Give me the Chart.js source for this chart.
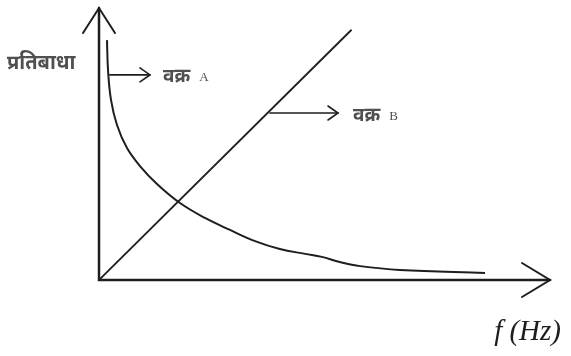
<!DOCTYPE html>
<html>
<head>
<meta charset="utf-8">
<script src="https://cdn.jsdelivr.net/npm/chart.js@4"></script>
<style>
  html, body { margin: 0; padding: 0; background: #fff; }
  #wrap { width: 571px; height: 356px; }
</style>
</head>
<body>
<div id="wrap"><canvas id="chart"></canvas></div>
<script>
// frequency (arbitrary units) and impedance
const curveAFreq = [1.77, 2.0, 2.66, 3.99, 6.21, 9.09, 12.86, 17.96, 23.5, 29.05, 34.6, 40.1, 45.7, 49.4, 53.4, 57.9, 66.7, 85.6];
const curveAImp = [88.2, 77.2, 66.2, 57.0, 48.5, 41.9, 35.3, 28.3, 22.8, 18.4, 14.3, 11.4, 9.6, 8.5, 6.6, 5.1, 3.7, 2.6];
const curveBFreq = [0, 56];
const curveBImp = [0, 92];

const yLabel = "प्रतिबाधा";
const xLabel = "f (Hz)";
const nameA = ["वक्र", "A"];
const nameB = ["वक्र", "B"];

const ink = "#1e1e1e";
const grayText = "#505050";

const toPoints = (xs, ys) => xs.map((x, i) => ({ x: x, y: ys[i] }));

function arrowHead(ctx, x, y, dir, len, half) {
  ctx.beginPath();
  if (dir === "right") {
    ctx.moveTo(x - len, y - half);
    ctx.lineTo(x, y);
    ctx.lineTo(x - len, y + half);
  } else {
    ctx.moveTo(x - half, y + len);
    ctx.lineTo(x, y);
    ctx.lineTo(x + half, y + len);
  }
  ctx.stroke();
}

const sketchPlugin = {
  id: "sketch",
  afterDatasetsDraw(chart) {
    const { ctx, chartArea: a, scales } = chart;
    const sx = scales.x, sy = scales.y;
    ctx.save();
    ctx.strokeStyle = ink;
    ctx.lineCap = "round";

    // axes
    ctx.lineWidth = 2.5;
    ctx.beginPath();
    ctx.moveTo(a.left, a.top);
    ctx.lineTo(a.left, a.bottom);
    ctx.lineTo(a.right, a.bottom);
    ctx.stroke();
    ctx.lineWidth = 2;
    arrowHead(ctx, a.left, a.top, "up", 25, 16);
    arrowHead(ctx, a.right, a.bottom, "right", 28, 17);

    // pointer arrows to the curves
    ctx.lineWidth = 1.6;
    const pointers = [
      { from: [2.4, 75.4], to: [11.3, 75.4], text: nameA, tx: 14.2, dy: 2 },
      { from: [37.9, 61.4], to: [53.0, 61.4], text: nameB, tx: 56.3, dy: 3 }
    ];
    pointers.forEach(p => {
      const x1 = sx.getPixelForValue(p.from[0]);
      const x2 = sx.getPixelForValue(p.to[0]);
      const y = sy.getPixelForValue(p.from[1]);
      ctx.beginPath();
      ctx.moveTo(x1, y);
      ctx.lineTo(x2, y);
      ctx.stroke();
      arrowHead(ctx, x2, y, "right", 10, 7);
      const tx = sx.getPixelForValue(p.tx);
      ctx.fillStyle = grayText;
      ctx.textBaseline = "middle";
      ctx.font = "bold 19px 'Noto Sans', 'DejaVu Sans', sans-serif";
      ctx.fillText(p.text[0], tx, y + p.dy);
      const w = ctx.measureText(p.text[0]).width;
      ctx.font = "13px 'Liberation Serif', serif";
      ctx.fillText(p.text[1], tx + w + 9, y + p.dy + 1);
    });

    // axis titles
    ctx.fillStyle = grayText;
    ctx.textBaseline = "middle";
    ctx.font = "bold 20px 'Noto Sans', 'DejaVu Sans', sans-serif";
    ctx.fillText(yLabel, 7, 63);
    ctx.fillStyle = ink;
    ctx.font = "italic 29px 'Liberation Serif', 'DejaVu Serif', serif";
    ctx.textAlign = "right";
    ctx.textBaseline = "alphabetic";
    ctx.fillText(xLabel, 561, 340);
    ctx.restore();
  }
};

new Chart(document.getElementById("chart"), {
  type: "scatter",
  plugins: [sketchPlugin],
  data: {
    datasets: [
      {
        label: "A",
        data: toPoints(curveAFreq, curveAImp),
        showLine: true,
        borderColor: ink,
        borderWidth: 2,
        pointRadius: 0,
        tension: 0.4
      },
      {
        label: "B",
        data: toPoints(curveBFreq, curveBImp),
        showLine: true,
        borderColor: ink,
        borderWidth: 1.8,
        pointRadius: 0
      }
    ]
  },
  options: {
    responsive: true,
    maintainAspectRatio: false,
    animation: false,
    layout: { padding: { left: 99, top: 8, right: 21, bottom: 76 } },
    plugins: { legend: { display: false }, tooltip: { enabled: false } },
    scales: {
      x: { type: "linear", min: 0, max: 100, display: false },
      y: { type: "linear", min: 0, max: 100, display: false }
    }
  }
});
</script>
</body>
</html>
